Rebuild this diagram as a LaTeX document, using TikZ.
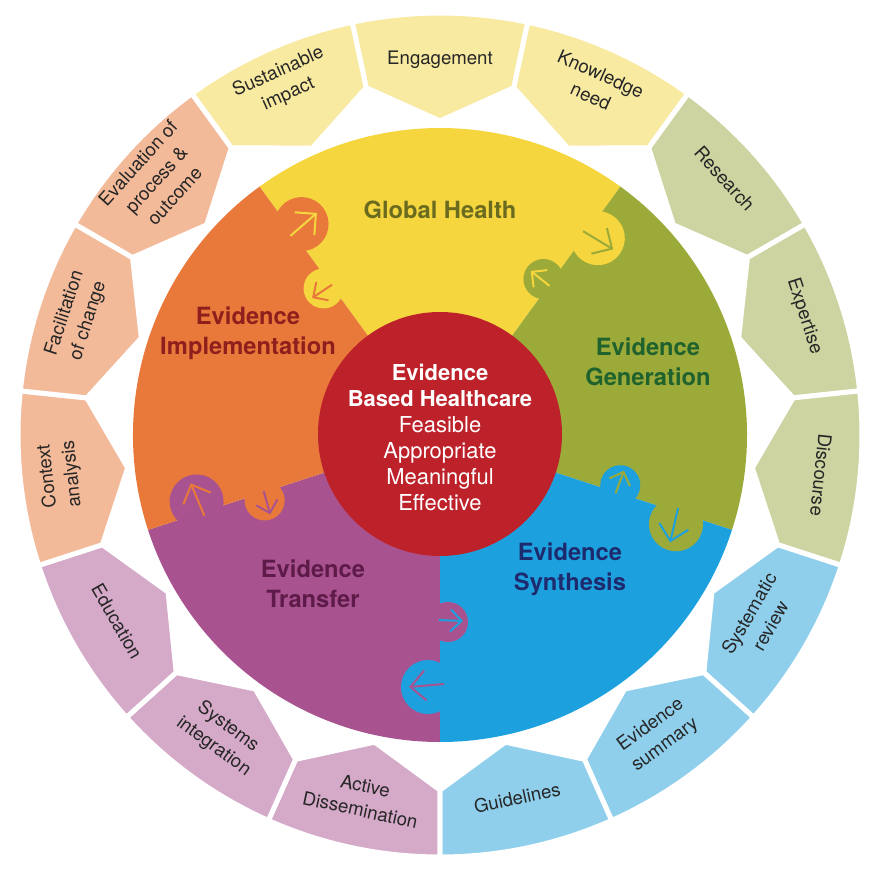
\documentclass[tikz,border=0pt]{standalone}
\usepackage{fontspec}
\setmainfont{TeX Gyre Heros}
\usepackage{tikz}
\usetikzlibrary{arrows.meta}
\definecolor{gh}{HTML}{F5D63E}
\definecolor{gen}{HTML}{9BAA38}
\definecolor{syn}{HTML}{1DA1DE}
\definecolor{trans}{HTML}{A8538F}
\definecolor{impl}{HTML}{E9793B}
\definecolor{ebh}{HTML}{BD2129}
\definecolor{rgh}{HTML}{F9EAA2}
\definecolor{rgen}{HTML}{CDD4A1}
\definecolor{rsyn}{HTML}{8FCFEC}
\definecolor{rtrans}{HTML}{D5A9C8}
\definecolor{rimpl}{HTML}{F3BA9A}
\definecolor{ghtext}{HTML}{6B6B1F}
\definecolor{impltext}{HTML}{8E1F1C}
\definecolor{gentext}{HTML}{20622E}
\definecolor{syntext}{HTML}{1D2B6E}
\definecolor{transtext}{HTML}{5E1A48}

\begin{document}
\begin{tikzpicture}[x=0.02cm,y=0.02cm,
  segment/.style={draw=white,line width=0.1cm},
  segtext/.style={font=\fontsize{10.6}{14}\selectfont,text=black!85,align=center,inner sep=0pt},
  piece/.style={font=\fontsize{13.5}{17}\selectfont\bfseries,align=center,inner sep=0pt},
  bigbarb/.style={line width=0.04cm,-{Straight Barb[length=0.3cm,width=0.6cm]}},
  smallbarb/.style={line width=0.04cm,-{Straight Barb[length=0.22cm,width=0.44cm]}}]
\useasboundingbox (-440,-445) rectangle (440,435);

\foreach \a/\c/\r/\t/\txt [count=\i] in {
    90/rgh/375/0/{Engagement},
    66/rgh/383/-24/{Knowledge\\need},
    42/rgen/383/-48/{Research},
    18/rgen/383/-72/{Expertise},
    -6/rgen/383/-96/{Discourse},
    -30/rsyn/369/60/{Systematic\\review},
    -54/rsyn/371/36/{Evidence\\summary},
    -78/rsyn/371/12/{Guidelines},
    -102/rtrans/371/-12/{Active\\Dissemination},
    -126/rtrans/373/-36/{Systems\\integration},
    -150/rtrans/373/-60/{Education},
    186/rimpl/382/96/{Context\\analysis},
    162/rimpl/382/72/{Facilitation\\of change},
    138/rimpl/382/48/{Evaluation of\\process \&\\outcome},
    114/rgh/385/24/{Sustainable\\impact}}{
  \fill[\c,segment] (\a+12:355) -- (\a+12:422)
    arc[start angle=\a+12,end angle=\a-12,radius=422] -- (\a-12:355) -- (\a:314) -- cycle;
  \node[segtext,rotate=\t] (seg\i) at (\a:\r) {\txt};
}

\foreach \s/\e/\c in {54/126/gh,-18/54/gen,-90/-18/syn,-162/-90/trans,126/198/impl}
  \fill[\c] (0,0) -- (\s:307) arc[start angle=\s,end angle=\e,radius=307] -- cycle;

\foreach \b/\cc/\cw in {126/impl/gh,54/gh/gen,-18/gen/syn,-90/syn/trans,-162/trans/impl}{
  \begin{scope}[rotate=\b]
    \fill[\cc] (252,-12) circle[radius=27];
    \fill[\cw] (187,8) circle[radius=20];
    \draw[\cw,bigbarb] (249,4) -- (252,-31);
    \draw[\cc,smallbarb] (185,-1) -- (186,23);
  \end{scope}
}

\fill[ebh] (0,1) circle[radius=122];
\node[text=white,align=center,inner sep=0pt,font=\fontsize{12.5}{14.8}\selectfont] (ebhtext) at (0,-2)
  {\textbf{Evidence}\\\textbf{Based Healthcare}\\Feasible\\Appropriate\\Meaningful\\Effective};

\node[piece,text=ghtext] (global) at (0,225) {Global Health};
\node[piece,text=impltext] (implement) at (-192,102) {Evidence\\Implementation};
\node[piece,text=gentext] (generate) at (208,73) {Evidence\\Generation};
\node[piece,text=syntext] (synth) at (130,-134) {Evidence\\Synthesis};
\node[piece,text=transtext] (transfer) at (-127,-149) {Evidence\\Transfer};
\end{tikzpicture}
\end{document}
